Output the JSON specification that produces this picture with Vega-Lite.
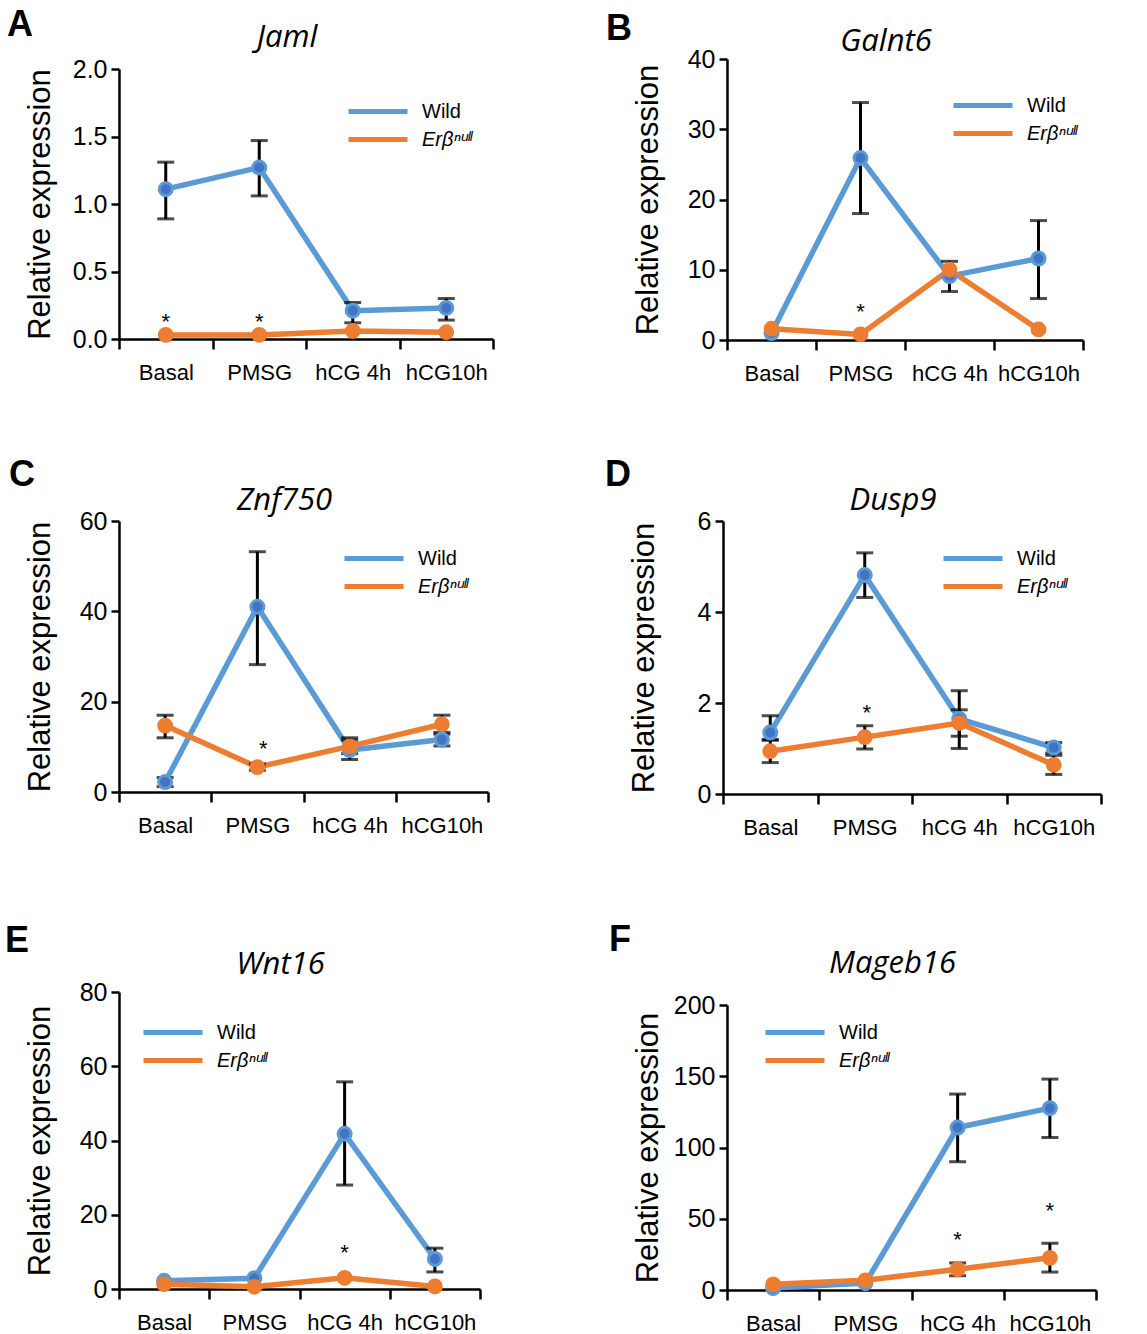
{
  "$schema": "https://vega.github.io/schema/vega-lite/v6.json",
  "background": "white",
  "padding": {"left": 4, "top": 7, "right": 0, "bottom": 0},
  "config": {
    "font": "Liberation Sans",
    "view": {"stroke": null},
    "axis": {"domainColor": "black", "domainWidth": 2.5, "tickColor": "black", "tickWidth": 2.5, "labelColor": "black", "labelFont": "Liberation Sans", "grid": false, "titleColor": "black", "titleFont": "Liberation Sans"},
    "axisX": {"tickSize": 10, "labelFontSize": 22, "labelAngle": 0, "labelPadding": 13, "tickBand": "extent"},
    "axisY": {"tickSize": 8, "labelFontSize": 25, "labelPadding": 4, "titleFontSize": 31, "titleFontWeight": "normal", "titleX": -63},
    "legend": {"title": null, "orient": "none", "symbolType": "M-2.95,0L2.95,0", "symbolSize": 400, "symbolStrokeWidth": 5, "labelFontSize": 20, "labelOffset": 31.5, "rowPadding": 5, "padding": 0, "labelFont": "Liberation Sans", "labelColor": "black"}
  },
  "datasets": {
    "jaml": [
      {"stage": "Basal", "group": "Wild", "mean": 1.11, "lo": 0.89, "hi": 1.31},
      {"stage": "PMSG", "group": "Wild", "mean": 1.27, "lo": 1.06, "hi": 1.47},
      {"stage": "hCG 4h", "group": "Wild", "mean": 0.21, "lo": 0.12, "hi": 0.27},
      {"stage": "hCG10h", "group": "Wild", "mean": 0.23, "lo": 0.14, "hi": 0.3},
      {"stage": "Basal", "group": "Erβⁿᵘˡˡ", "mean": 0.03, "lo": null, "hi": null},
      {"stage": "PMSG", "group": "Erβⁿᵘˡˡ", "mean": 0.03, "lo": null, "hi": null},
      {"stage": "hCG 4h", "group": "Erβⁿᵘˡˡ", "mean": 0.06, "lo": null, "hi": null},
      {"stage": "hCG10h", "group": "Erβⁿᵘˡˡ", "mean": 0.05, "lo": null, "hi": null}
    ],
    "galnt6": [
      {"stage": "Basal", "group": "Wild", "mean": 1.0, "lo": null, "hi": null},
      {"stage": "PMSG", "group": "Wild", "mean": 25.9, "lo": 18.0, "hi": 33.8},
      {"stage": "hCG 4h", "group": "Wild", "mean": 9.1, "lo": 6.9, "hi": 11.2},
      {"stage": "hCG10h", "group": "Wild", "mean": 11.6, "lo": 5.9, "hi": 17.0},
      {"stage": "Basal", "group": "Erβⁿᵘˡˡ", "mean": 1.6, "lo": null, "hi": null},
      {"stage": "PMSG", "group": "Erβⁿᵘˡˡ", "mean": 0.8, "lo": null, "hi": null},
      {"stage": "hCG 4h", "group": "Erβⁿᵘˡˡ", "mean": 10.0, "lo": null, "hi": null},
      {"stage": "hCG10h", "group": "Erβⁿᵘˡˡ", "mean": 1.5, "lo": null, "hi": null}
    ],
    "znf750": [
      {"stage": "Basal", "group": "Wild", "mean": 2.2, "lo": 1.2, "hi": 3.2},
      {"stage": "PMSG", "group": "Wild", "mean": 41.0, "lo": 28.2, "hi": 53.2},
      {"stage": "hCG 4h", "group": "Wild", "mean": 9.3, "lo": 7.2, "hi": 12.0},
      {"stage": "hCG10h", "group": "Wild", "mean": 11.6, "lo": 10.2, "hi": 12.8},
      {"stage": "Basal", "group": "Erβⁿᵘˡˡ", "mean": 14.7, "lo": 12.0, "hi": 17.0},
      {"stage": "PMSG", "group": "Erβⁿᵘˡˡ", "mean": 5.5, "lo": 4.8, "hi": 6.2},
      {"stage": "hCG 4h", "group": "Erβⁿᵘˡˡ", "mean": 10.1, "lo": 8.5, "hi": 11.5},
      {"stage": "hCG10h", "group": "Erβⁿᵘˡˡ", "mean": 15.0, "lo": 13.2, "hi": 17.0}
    ],
    "dusp9": [
      {"stage": "Basal", "group": "Wild", "mean": 1.35, "lo": 1.18, "hi": 1.72},
      {"stage": "PMSG", "group": "Wild", "mean": 4.81, "lo": 4.32, "hi": 5.3},
      {"stage": "hCG 4h", "group": "Wild", "mean": 1.65, "lo": 1.0, "hi": 2.27},
      {"stage": "hCG10h", "group": "Wild", "mean": 1.02, "lo": 0.9, "hi": 1.13},
      {"stage": "Basal", "group": "Erβⁿᵘˡˡ", "mean": 0.94, "lo": 0.69, "hi": 1.2},
      {"stage": "PMSG", "group": "Erβⁿᵘˡˡ", "mean": 1.25, "lo": 0.99, "hi": 1.5},
      {"stage": "hCG 4h", "group": "Erβⁿᵘˡˡ", "mean": 1.56, "lo": 1.27, "hi": 1.85},
      {"stage": "hCG10h", "group": "Erβⁿᵘˡˡ", "mean": 0.64, "lo": 0.43, "hi": 0.85}
    ],
    "wnt16": [
      {"stage": "Basal", "group": "Wild", "mean": 2.2, "lo": null, "hi": null},
      {"stage": "PMSG", "group": "Wild", "mean": 2.9, "lo": null, "hi": null},
      {"stage": "hCG 4h", "group": "Wild", "mean": 41.8, "lo": 28.0, "hi": 55.8},
      {"stage": "hCG10h", "group": "Wild", "mean": 8.1, "lo": 4.6, "hi": 11.0},
      {"stage": "Basal", "group": "Erβⁿᵘˡˡ", "mean": 1.3, "lo": null, "hi": null},
      {"stage": "PMSG", "group": "Erβⁿᵘˡˡ", "mean": 0.6, "lo": null, "hi": null},
      {"stage": "hCG 4h", "group": "Erβⁿᵘˡˡ", "mean": 3.0, "lo": null, "hi": null},
      {"stage": "hCG10h", "group": "Erβⁿᵘˡˡ", "mean": 0.7, "lo": null, "hi": null}
    ],
    "mageb16": [
      {"stage": "Basal", "group": "Wild", "mean": 1.4, "lo": null, "hi": null},
      {"stage": "PMSG", "group": "Wild", "mean": 4.8, "lo": null, "hi": null},
      {"stage": "hCG 4h", "group": "Wild", "mean": 114.0, "lo": 90.0, "hi": 137.5},
      {"stage": "hCG10h", "group": "Wild", "mean": 127.6, "lo": 107.0, "hi": 148.0},
      {"stage": "Basal", "group": "Erβⁿᵘˡˡ", "mean": 4.0, "lo": null, "hi": null},
      {"stage": "PMSG", "group": "Erβⁿᵘˡˡ", "mean": 6.8, "lo": null, "hi": null},
      {"stage": "hCG 4h", "group": "Erβⁿᵘˡˡ", "mean": 14.6, "lo": 10.0, "hi": 19.0},
      {"stage": "hCG10h", "group": "Erβⁿᵘˡˡ", "mean": 22.6, "lo": 12.6, "hi": 32.8}
    ]
  },
  "resolve": {"scale": {"color": "independent"}, "legend": {"color": "independent"}},
  "spacing": 73,
  "vconcat": [
    {
      "columns": 2, "align": "none", "spacing": 110,
      "resolve": {"scale": {"color": "independent"}, "legend": {"color": "independent"}},
      "concat": [
        {
          "title": {"text": "A", "anchor": "start", "fontSize": 36, "fontWeight": "bold", "font": "Liberation Sans", "color": "black", "dx": -17, "offset": -22},
          "vconcat": [{
            "width": 374, "height": 280,
            "title": {"text": "Jaml", "font": "Open Sans", "fontStyle": "italic", "fontWeight": "normal", "fontSize": 31, "color": "black", "frame": "group", "dx": -19, "offset": 3},
            "data": {"name": "jaml"},
            "encoding": {"x": {"field": "stage", "type": "nominal", "sort": ["Basal", "PMSG", "hCG 4h", "hCG10h"], "scale": {"paddingInner": 0, "paddingOuter": 0}, "axis": {"title": null}}},
            "layer": [
              {"transform": [{"filter": "datum.group === 'Wild'"}], "mark": {"type": "line", "strokeWidth": 5.5},
               "encoding": {"y": {"field": "mean", "type": "quantitative", "title": "Relative expression", "scale": {"domain": [0, 2], "nice": false, "range": [280, 10]}, "axis": {"values": [0, 0.5, 1, 1.5, 2], "format": ".1f"}},
                 "color": {"field": "group", "type": "nominal", "scale": {"domain": ["Wild", "Erβⁿᵘˡˡ"], "range": ["#5B9BD5", "#ED7D31"]}, "legend": {"legendX": 246.5, "legendY": 40, "encode": {"labels": {"update": {"fontStyle": {"signal": "datum.label === 'Wild' ? 'normal' : 'italic'"}}}}}}}},
              {"transform": [{"filter": "datum.group !== 'Wild'"}], "mark": {"type": "line", "strokeWidth": 5.5},
               "encoding": {"y": {"field": "mean", "type": "quantitative", "title": "Relative expression"}, "color": {"field": "group", "type": "nominal"}}},
              {"transform": [{"filter": "datum.lo != null"}], "mark": {"type": "rule", "color": "black", "strokeWidth": 3},
               "encoding": {"y": {"field": "lo", "type": "quantitative", "title": "Relative expression"}, "y2": {"field": "hi"}}},
              {"transform": [{"filter": "datum.lo != null"}], "mark": {"type": "tick", "color": "black", "thickness": 3, "size": 17},
               "encoding": {"y": {"field": "lo", "type": "quantitative", "title": "Relative expression"}}},
              {"transform": [{"filter": "datum.lo != null"}], "mark": {"type": "tick", "color": "black", "thickness": 3, "size": 17},
               "encoding": {"y": {"field": "hi", "type": "quantitative", "title": "Relative expression"}}},
              {"transform": [{"filter": "datum.group === 'Wild'"}], "mark": {"type": "point", "filled": true, "size": 170, "fill": "#4472C4", "stroke": "#5B9BD5", "strokeWidth": 3, "opacity": 1},
               "encoding": {"y": {"field": "mean", "type": "quantitative", "title": "Relative expression"}}},
              {"transform": [{"filter": "datum.group !== 'Wild'"}], "mark": {"type": "point", "filled": true, "size": 190, "fill": "#ED7D31", "stroke": "#ED7D31", "strokeWidth": 2, "opacity": 1},
               "encoding": {"y": {"field": "mean", "type": "quantitative", "title": "Relative expression"}}},
              {"data": {"values": [{"stage": "Basal", "sy": 0.16}, {"stage": "PMSG", "sy": 0.16}]}, "mark": {"type": "text", "text": "*", "fontSize": 22, "dy": 5, "color": "black"},
               "encoding": {"y": {"field": "sy", "type": "quantitative", "title": "Relative expression"}}}
            ]
          }]
        },
        {
          "title": {"text": "B", "anchor": "start", "fontSize": 36, "fontWeight": "bold", "font": "Liberation Sans", "color": "black", "dx": -26, "offset": -22},
          "vconcat": [{
            "width": 356, "height": 281,
            "title": {"text": "Galnt6", "font": "Open Sans", "fontStyle": "italic", "fontWeight": "normal", "fontSize": 31, "color": "black", "frame": "group", "dx": -19, "offset": -11},
            "data": {"name": "galnt6"},
            "encoding": {"x": {"field": "stage", "type": "nominal", "sort": ["Basal", "PMSG", "hCG 4h", "hCG10h"], "scale": {"paddingInner": 0, "paddingOuter": 0}, "axis": {"title": null}}},
            "layer": [
              {"transform": [{"filter": "datum.group === 'Wild'"}], "mark": {"type": "line", "strokeWidth": 5.5},
               "encoding": {"y": {"field": "mean", "type": "quantitative", "title": "Relative expression", "scale": {"domain": [0, 40], "nice": false}, "axis": {"values": [0, 10, 20, 30, 40]}},
                 "color": {"field": "group", "type": "nominal", "scale": {"domain": ["Wild", "Erβⁿᵘˡˡ"], "range": ["#5B9BD5", "#ED7D31"]}, "legend": {"legendX": 243.5, "legendY": 34, "encode": {"labels": {"update": {"fontStyle": {"signal": "datum.label === 'Wild' ? 'normal' : 'italic'"}}}}}}}},
              {"transform": [{"filter": "datum.group !== 'Wild'"}], "mark": {"type": "line", "strokeWidth": 5.5},
               "encoding": {"y": {"field": "mean", "type": "quantitative", "title": "Relative expression"}, "color": {"field": "group", "type": "nominal"}}},
              {"transform": [{"filter": "datum.lo != null"}], "mark": {"type": "rule", "color": "black", "strokeWidth": 3},
               "encoding": {"y": {"field": "lo", "type": "quantitative", "title": "Relative expression"}, "y2": {"field": "hi"}}},
              {"transform": [{"filter": "datum.lo != null"}], "mark": {"type": "tick", "color": "black", "thickness": 3, "size": 17},
               "encoding": {"y": {"field": "lo", "type": "quantitative", "title": "Relative expression"}}},
              {"transform": [{"filter": "datum.lo != null"}], "mark": {"type": "tick", "color": "black", "thickness": 3, "size": 17},
               "encoding": {"y": {"field": "hi", "type": "quantitative", "title": "Relative expression"}}},
              {"transform": [{"filter": "datum.group === 'Wild'"}], "mark": {"type": "point", "filled": true, "size": 170, "fill": "#4472C4", "stroke": "#5B9BD5", "strokeWidth": 3, "opacity": 1},
               "encoding": {"y": {"field": "mean", "type": "quantitative", "title": "Relative expression"}}},
              {"transform": [{"filter": "datum.group !== 'Wild'"}], "mark": {"type": "point", "filled": true, "size": 190, "fill": "#ED7D31", "stroke": "#ED7D31", "strokeWidth": 2, "opacity": 1},
               "encoding": {"y": {"field": "mean", "type": "quantitative", "title": "Relative expression"}}},
              {"data": {"values": [{"stage": "PMSG", "sy": 4.7}]}, "mark": {"type": "text", "text": "*", "fontSize": 22, "dy": 5, "color": "black"},
               "encoding": {"y": {"field": "sy", "type": "quantitative", "title": "Relative expression"}}}
            ]
          }]
        }
      ]
    },
    {
      "spacing": 84,
      "resolve": {"scale": {"color": "independent"}, "legend": {"color": "independent"}},
      "vconcat": [
        {
          "columns": 2, "align": "none", "spacing": 114,
          "resolve": {"scale": {"color": "independent"}, "legend": {"color": "independent"}},
          "concat": [
            {
              "title": {"text": "C", "anchor": "start", "fontSize": 36, "fontWeight": "bold", "font": "Liberation Sans", "color": "black", "dx": -15, "offset": -9},
              "vconcat": [{
                "width": 369, "height": 271,
                "title": {"text": "Znf750", "font": "Open Sans", "fontStyle": "italic", "fontWeight": "normal", "fontSize": 31, "color": "black", "frame": "group", "dx": -19, "offset": -8},
                "data": {"name": "znf750"},
                "encoding": {"x": {"field": "stage", "type": "nominal", "sort": ["Basal", "PMSG", "hCG 4h", "hCG10h"], "scale": {"paddingInner": 0, "paddingOuter": 0}, "axis": {"title": null}}},
                "layer": [
                  {"transform": [{"filter": "datum.group === 'Wild'"}], "mark": {"type": "line", "strokeWidth": 5.5},
                   "encoding": {"y": {"field": "mean", "type": "quantitative", "title": "Relative expression", "scale": {"domain": [0, 60], "nice": false}, "axis": {"values": [0, 20, 40, 60]}},
                     "color": {"field": "group", "type": "nominal", "scale": {"domain": ["Wild", "Erβⁿᵘˡˡ"], "range": ["#5B9BD5", "#ED7D31"]}, "legend": {"legendX": 242.5, "legendY": 25, "encode": {"labels": {"update": {"fontStyle": {"signal": "datum.label === 'Wild' ? 'normal' : 'italic'"}}}}}}}},
                  {"transform": [{"filter": "datum.group !== 'Wild'"}], "mark": {"type": "line", "strokeWidth": 5.5},
                   "encoding": {"y": {"field": "mean", "type": "quantitative", "title": "Relative expression"}, "color": {"field": "group", "type": "nominal"}}},
                  {"transform": [{"filter": "datum.lo != null"}], "mark": {"type": "rule", "color": "black", "strokeWidth": 3},
                   "encoding": {"y": {"field": "lo", "type": "quantitative", "title": "Relative expression"}, "y2": {"field": "hi"}}},
                  {"transform": [{"filter": "datum.lo != null"}], "mark": {"type": "tick", "color": "black", "thickness": 3, "size": 17},
                   "encoding": {"y": {"field": "lo", "type": "quantitative", "title": "Relative expression"}}},
                  {"transform": [{"filter": "datum.lo != null"}], "mark": {"type": "tick", "color": "black", "thickness": 3, "size": 17},
                   "encoding": {"y": {"field": "hi", "type": "quantitative", "title": "Relative expression"}}},
                  {"transform": [{"filter": "datum.group === 'Wild'"}], "mark": {"type": "point", "filled": true, "size": 170, "fill": "#4472C4", "stroke": "#5B9BD5", "strokeWidth": 3, "opacity": 1},
                   "encoding": {"y": {"field": "mean", "type": "quantitative", "title": "Relative expression"}}},
                  {"transform": [{"filter": "datum.group !== 'Wild'"}], "mark": {"type": "point", "filled": true, "size": 190, "fill": "#ED7D31", "stroke": "#ED7D31", "strokeWidth": 2, "opacity": 1},
                   "encoding": {"y": {"field": "mean", "type": "quantitative", "title": "Relative expression"}}},
                  {"data": {"values": [{"stage": "PMSG", "sy": 10.6}]}, "mark": {"type": "text", "text": "*", "fontSize": 22, "dy": 5, "dx": 6, "color": "black"},
                   "encoding": {"y": {"field": "sy", "type": "quantitative", "title": "Relative expression"}}}
                ]
              }]
            },
            {
              "title": {"text": "D", "anchor": "start", "fontSize": 36, "fontWeight": "bold", "font": "Liberation Sans", "color": "black", "dx": -23, "offset": -9},
              "vconcat": [{
                "width": 378, "height": 273,
                "title": {"text": "Dusp9", "font": "Open Sans", "fontStyle": "italic", "fontWeight": "normal", "fontSize": 31, "color": "black", "frame": "group", "dx": -19, "offset": -8},
                "data": {"name": "dusp9"},
                "encoding": {"x": {"field": "stage", "type": "nominal", "sort": ["Basal", "PMSG", "hCG 4h", "hCG10h"], "scale": {"paddingInner": 0, "paddingOuter": 0}, "axis": {"title": null}}},
                "layer": [
                  {"transform": [{"filter": "datum.group === 'Wild'"}], "mark": {"type": "line", "strokeWidth": 5.5},
                   "encoding": {"y": {"field": "mean", "type": "quantitative", "title": "Relative expression", "scale": {"domain": [0, 6], "nice": false}, "axis": {"values": [0, 2, 4, 6]}},
                     "color": {"field": "group", "type": "nominal", "scale": {"domain": ["Wild", "Erβⁿᵘˡˡ"], "range": ["#5B9BD5", "#ED7D31"]}, "legend": {"legendX": 237.5, "legendY": 25, "encode": {"labels": {"update": {"fontStyle": {"signal": "datum.label === 'Wild' ? 'normal' : 'italic'"}}}}}}}},
                  {"transform": [{"filter": "datum.group !== 'Wild'"}], "mark": {"type": "line", "strokeWidth": 5.5},
                   "encoding": {"y": {"field": "mean", "type": "quantitative", "title": "Relative expression"}, "color": {"field": "group", "type": "nominal"}}},
                  {"transform": [{"filter": "datum.lo != null"}], "mark": {"type": "rule", "color": "black", "strokeWidth": 3},
                   "encoding": {"y": {"field": "lo", "type": "quantitative", "title": "Relative expression"}, "y2": {"field": "hi"}}},
                  {"transform": [{"filter": "datum.lo != null"}], "mark": {"type": "tick", "color": "black", "thickness": 3, "size": 17},
                   "encoding": {"y": {"field": "lo", "type": "quantitative", "title": "Relative expression"}}},
                  {"transform": [{"filter": "datum.lo != null"}], "mark": {"type": "tick", "color": "black", "thickness": 3, "size": 17},
                   "encoding": {"y": {"field": "hi", "type": "quantitative", "title": "Relative expression"}}},
                  {"transform": [{"filter": "datum.group === 'Wild'"}], "mark": {"type": "point", "filled": true, "size": 170, "fill": "#4472C4", "stroke": "#5B9BD5", "strokeWidth": 3, "opacity": 1},
                   "encoding": {"y": {"field": "mean", "type": "quantitative", "title": "Relative expression"}}},
                  {"transform": [{"filter": "datum.group !== 'Wild'"}], "mark": {"type": "point", "filled": true, "size": 190, "fill": "#ED7D31", "stroke": "#ED7D31", "strokeWidth": 2, "opacity": 1},
                   "encoding": {"y": {"field": "mean", "type": "quantitative", "title": "Relative expression"}}},
                  {"data": {"values": [{"stage": "PMSG", "sy": 1.9}]}, "mark": {"type": "text", "text": "*", "fontSize": 22, "dy": 5, "dx": 2, "color": "black"},
                   "encoding": {"y": {"field": "sy", "type": "quantitative", "title": "Relative expression"}}}
                ]
              }]
            }
          ]
        },
        {
          "columns": 2, "align": "none", "spacing": 126,
          "resolve": {"scale": {"color": "independent"}, "legend": {"color": "independent"}},
          "concat": [
            {
              "title": {"text": "E", "anchor": "start", "fontSize": 36, "fontWeight": "bold", "font": "Liberation Sans", "color": "black", "dx": -19, "offset": -11},
              "vconcat": [{
                "width": 361, "height": 297,
                "title": {"text": "Wnt16", "font": "Open Sans", "fontStyle": "italic", "fontWeight": "normal", "fontSize": 31, "color": "black", "frame": "group", "dx": -19, "offset": -1},
                "data": {"name": "wnt16"},
                "encoding": {"x": {"field": "stage", "type": "nominal", "sort": ["Basal", "PMSG", "hCG 4h", "hCG10h"], "scale": {"paddingInner": 0, "paddingOuter": 0}, "axis": {"title": null}}},
                "layer": [
                  {"transform": [{"filter": "datum.group === 'Wild'"}], "mark": {"type": "line", "strokeWidth": 5.5},
                   "encoding": {"y": {"field": "mean", "type": "quantitative", "title": "Relative expression", "scale": {"domain": [0, 80], "nice": false}, "axis": {"values": [0, 20, 40, 60, 80]}},
                     "color": {"field": "group", "type": "nominal", "scale": {"domain": ["Wild", "Erβⁿᵘˡˡ"], "range": ["#5B9BD5", "#ED7D31"]}, "legend": {"legendX": 41.5, "legendY": 28, "encode": {"labels": {"update": {"fontStyle": {"signal": "datum.label === 'Wild' ? 'normal' : 'italic'"}}}}}}}},
                  {"transform": [{"filter": "datum.group !== 'Wild'"}], "mark": {"type": "line", "strokeWidth": 5.5},
                   "encoding": {"y": {"field": "mean", "type": "quantitative", "title": "Relative expression"}, "color": {"field": "group", "type": "nominal"}}},
                  {"transform": [{"filter": "datum.lo != null"}], "mark": {"type": "rule", "color": "black", "strokeWidth": 3},
                   "encoding": {"y": {"field": "lo", "type": "quantitative", "title": "Relative expression"}, "y2": {"field": "hi"}}},
                  {"transform": [{"filter": "datum.lo != null"}], "mark": {"type": "tick", "color": "black", "thickness": 3, "size": 17},
                   "encoding": {"y": {"field": "lo", "type": "quantitative", "title": "Relative expression"}}},
                  {"transform": [{"filter": "datum.lo != null"}], "mark": {"type": "tick", "color": "black", "thickness": 3, "size": 17},
                   "encoding": {"y": {"field": "hi", "type": "quantitative", "title": "Relative expression"}}},
                  {"transform": [{"filter": "datum.group === 'Wild'"}], "mark": {"type": "point", "filled": true, "size": 170, "fill": "#4472C4", "stroke": "#5B9BD5", "strokeWidth": 3, "opacity": 1},
                   "encoding": {"y": {"field": "mean", "type": "quantitative", "title": "Relative expression"}}},
                  {"transform": [{"filter": "datum.group !== 'Wild'"}], "mark": {"type": "point", "filled": true, "size": 190, "fill": "#ED7D31", "stroke": "#ED7D31", "strokeWidth": 2, "opacity": 1},
                   "encoding": {"y": {"field": "mean", "type": "quantitative", "title": "Relative expression"}}},
                  {"data": {"values": [{"stage": "hCG 4h", "sy": 11}]}, "mark": {"type": "text", "text": "*", "fontSize": 22, "dy": 5, "color": "black"},
                   "encoding": {"y": {"field": "sy", "type": "quantitative", "title": "Relative expression"}}}
                ]
              }]
            },
            {
              "title": {"text": "F", "anchor": "start", "fontSize": 36, "fontWeight": "bold", "font": "Liberation Sans", "color": "black", "dx": -23, "offset": -11},
              "vconcat": [{
                "width": 369, "height": 298,
                "title": {"text": "Mageb16", "font": "Open Sans", "fontStyle": "italic", "fontWeight": "normal", "fontSize": 31, "color": "black", "frame": "group", "dx": -19, "offset": 12},
                "data": {"name": "mageb16"},
                "encoding": {"x": {"field": "stage", "type": "nominal", "sort": ["Basal", "PMSG", "hCG 4h", "hCG10h"], "scale": {"paddingInner": 0, "paddingOuter": 0}, "axis": {"title": null}}},
                "layer": [
                  {"transform": [{"filter": "datum.group === 'Wild'"}], "mark": {"type": "line", "strokeWidth": 5.5},
                   "encoding": {"y": {"field": "mean", "type": "quantitative", "title": "Relative expression", "scale": {"domain": [0, 200], "nice": false, "range": [298, 13]}, "axis": {"values": [0, 50, 100, 150, 200]}},
                     "color": {"field": "group", "type": "nominal", "scale": {"domain": ["Wild", "Erβⁿᵘˡˡ"], "range": ["#5B9BD5", "#ED7D31"]}, "legend": {"legendX": 55.5, "legendY": 28, "encode": {"labels": {"update": {"fontStyle": {"signal": "datum.label === 'Wild' ? 'normal' : 'italic'"}}}}}}}},
                  {"transform": [{"filter": "datum.group !== 'Wild'"}], "mark": {"type": "line", "strokeWidth": 5.5},
                   "encoding": {"y": {"field": "mean", "type": "quantitative", "title": "Relative expression"}, "color": {"field": "group", "type": "nominal"}}},
                  {"transform": [{"filter": "datum.lo != null"}], "mark": {"type": "rule", "color": "black", "strokeWidth": 3},
                   "encoding": {"y": {"field": "lo", "type": "quantitative", "title": "Relative expression"}, "y2": {"field": "hi"}}},
                  {"transform": [{"filter": "datum.lo != null"}], "mark": {"type": "tick", "color": "black", "thickness": 3, "size": 17},
                   "encoding": {"y": {"field": "lo", "type": "quantitative", "title": "Relative expression"}}},
                  {"transform": [{"filter": "datum.lo != null"}], "mark": {"type": "tick", "color": "black", "thickness": 3, "size": 17},
                   "encoding": {"y": {"field": "hi", "type": "quantitative", "title": "Relative expression"}}},
                  {"transform": [{"filter": "datum.group === 'Wild'"}], "mark": {"type": "point", "filled": true, "size": 170, "fill": "#4472C4", "stroke": "#5B9BD5", "strokeWidth": 3, "opacity": 1},
                   "encoding": {"y": {"field": "mean", "type": "quantitative", "title": "Relative expression"}}},
                  {"transform": [{"filter": "datum.group !== 'Wild'"}], "mark": {"type": "point", "filled": true, "size": 190, "fill": "#ED7D31", "stroke": "#ED7D31", "strokeWidth": 2, "opacity": 1},
                   "encoding": {"y": {"field": "mean", "type": "quantitative", "title": "Relative expression"}}},
                  {"data": {"values": [{"stage": "hCG 4h", "sy": 38.6}, {"stage": "hCG10h", "sy": 59}]}, "mark": {"type": "text", "text": "*", "fontSize": 22, "dy": 5, "color": "black"},
                   "encoding": {"y": {"field": "sy", "type": "quantitative", "title": "Relative expression"}}}
                ]
              }]
            }
          ]
        }
      ]
    }
  ]
}
